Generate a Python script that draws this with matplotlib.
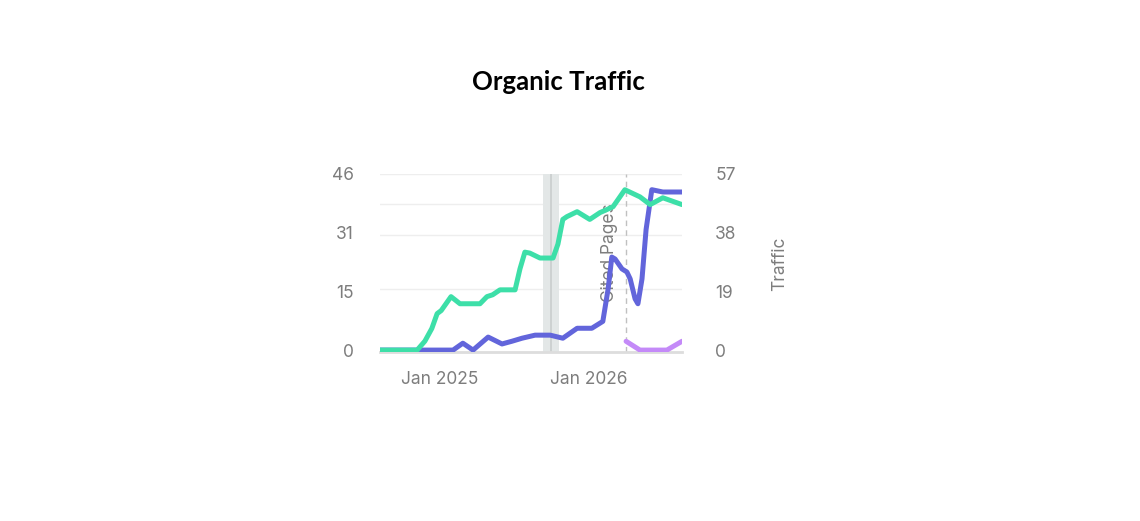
import matplotlib

matplotlib.use("Agg")
import matplotlib.dates as mdates  # noqa: E402
import matplotlib.pyplot as plt  # noqa: E402
import pandas as pd  # noqa: E402

# Traffic (right axis)
traffic_dates = [
    "2024-08-07", "2024-11-06", "2024-11-25", "2024-12-12", "2024-12-25",
    "2025-01-04", "2025-01-28", "2025-02-19", "2025-04-09", "2025-04-26",
    "2025-05-10", "2025-05-28", "2025-07-04", "2025-07-16", "2025-07-28",
    "2025-08-09", "2025-09-03", "2025-10-05", "2025-10-17", "2025-10-29",
    "2025-11-08", "2025-12-03", "2026-01-03", "2026-01-28", "2026-02-09",
    "2026-03-01", "2026-03-30", "2026-05-06", "2026-05-31", "2026-07-01",
    "2026-08-17",
]
traffic = [
    0, 0, 2.9, 7.0, 11.8,
    12.8, 17.3, 15.0, 15.0, 17.3,
    17.9, 19.5, 19.5, 26.3, 31.7,
    31.4, 29.8, 29.8, 34.3, 42.3,
    43.2, 44.8, 42.3, 44.5, 45.2,
    46.4, 51.9, 49.6, 47.1, 49.3,
    47.1,
]

# Cited pages (left axis)
cited_dates = [
    "2024-08-07", "2025-02-02", "2025-02-26", "2025-03-23", "2025-04-29",
    "2025-06-02", "2025-06-26", "2025-07-21", "2025-08-22", "2025-09-28",
    "2025-10-29", "2025-12-03", "2026-01-08", "2026-02-04", "2026-02-17",
    "2026-02-26", "2026-03-06", "2026-03-23", "2026-04-04", "2026-04-12",
    "2026-04-24", "2026-05-01", "2026-05-11", "2026-05-21", "2026-06-04",
    "2026-07-01", "2026-08-17",
]
cited = [
    0, 0, 1.8, 0, 3.4,
    1.6, 2.3, 3.1, 3.9, 3.9,
    3.1, 5.7, 5.7, 7.5, 16.0,
    24.3, 23.8, 21.2, 20.4, 18.6,
    13.4, 12.1, 18.6, 31.5, 41.9,
    41.3, 41.3,
]

# Forecast segment (left axis)
forecast_dates = ["2026-04-02", "2026-05-06", "2026-07-11", "2026-08-17"]
forecast = [2.3, 0, 0, 2.3]

left_ticks = [0, 15.33, 30.67, 46]
left_labels = ["0", "15", "31", "46"]
right_ticks = [0, 19, 38, 57]
grid_levels = [16.0, 30.0, 38.2, 46]

GREEN = "#3ddfa8"
BLUE = "#6265db"
PURPLE = "#c48af8"
GRAY = "#7d7d7d"

plt.rcParams["font.family"] = ["Inter", "DejaVu Sans"]

fig = plt.figure(figsize=(11.4, 5.21), dpi=100)
ax = fig.add_axes([380 / 1140, 1 - 352 / 521, 302 / 1140, 178 / 521])
ax2 = ax.twinx()

td = pd.to_datetime(traffic_dates)
cd = pd.to_datetime(cited_dates)
fd = pd.to_datetime(forecast_dates)

for y in grid_levels:
    ax.axhline(y, color="#eeeeee", lw=1, zorder=0)

ax.axvspan(pd.Timestamp("2025-09-10"), pd.Timestamp("2025-10-19"),
           color="#e3e7e7", zorder=0.5, lw=0)
ax.axvline(pd.Timestamp("2025-09-30"), color="#c9cdcd", lw=1.2, zorder=0.6)
ax.axvline(pd.Timestamp("2026-04-02"), color="#c0c0c0", lw=1, ls=(0, (4, 3)), zorder=0.6)

style = dict(lw=3.6, solid_joinstyle="round", solid_capstyle="round")
ax.plot(cd, cited, color=BLUE, zorder=3, **style)
ax.plot(fd, forecast, color=PURPLE, zorder=3, **style)
ax2.plot(td, traffic, color=GREEN, zorder=4, **style)

ax.set_xlim(pd.Timestamp("2024-08-07"), pd.Timestamp("2026-08-17"))
ax.set_ylim(-0.5, 46)
ax2.set_ylim(-0.62, 57)

ax.set_yticks(left_ticks, left_labels)
ax2.set_yticks(right_ticks, [str(v) for v in right_ticks])
ax.xaxis.set_major_locator(mdates.MonthLocator(bymonth=1))
ax.xaxis.set_major_formatter(mdates.DateFormatter("%b %Y"))

for a in (ax, ax2):
    for s in a.spines.values():
        s.set_visible(False)
    a.tick_params(length=0, labelsize=12.5, labelcolor=GRAY)
ax.tick_params(axis="y", pad=19)
ax2.tick_params(axis="y", pad=24)
ax.tick_params(axis="x", pad=14)
ax.spines["bottom"].set_visible(True)
ax.spines["bottom"].set_color("#dddddd")
ax.spines["bottom"].set_linewidth(2)

ax.text(pd.Timestamp("2026-02-21"), 25.5, "Cited Pages", rotation=90,
        ha="center", va="center", fontsize=12.5, color=GRAY, zorder=2)
fig.text(780 / 1140, 1 - 264 / 521, "Traffic", rotation=90, ha="center",
         va="center", fontsize=12.5, color=GRAY)

fig.text(558 / 1140, 1 - 82 / 521, "Organic Traffic", ha="center", va="center",
         fontsize=18.5, fontweight="bold", family=["Lato", "DejaVu Sans"])

fig.savefig("out.png", dpi=100)
